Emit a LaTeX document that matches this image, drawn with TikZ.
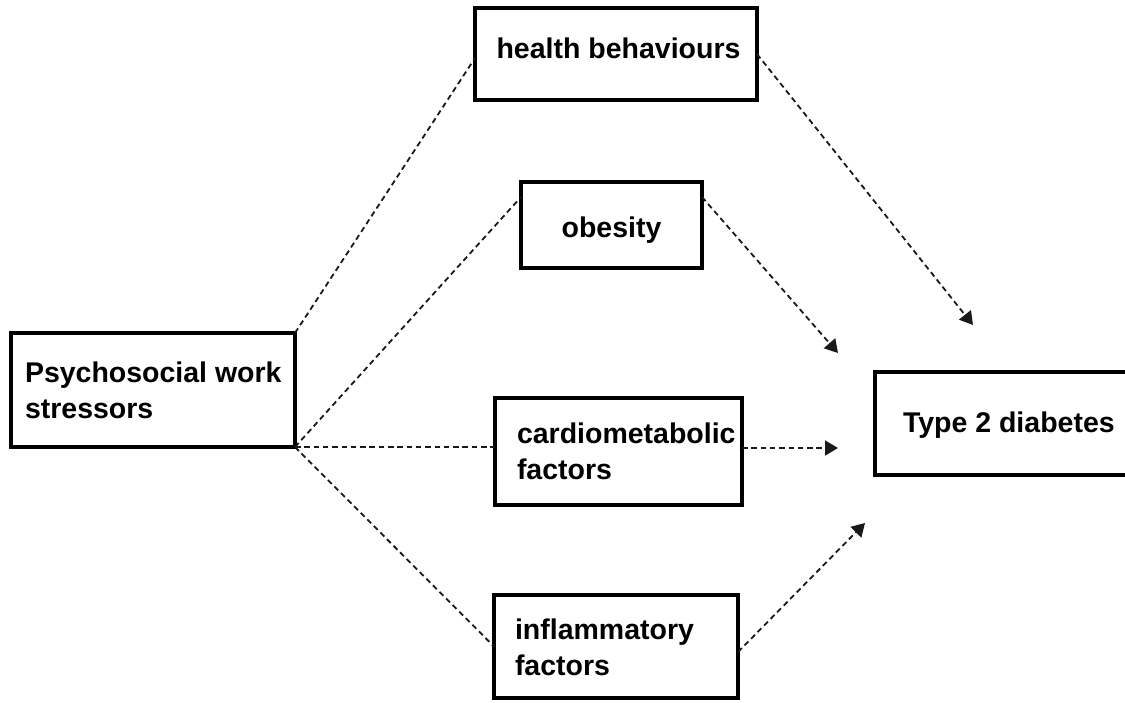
\documentclass[tikz,border=0pt]{standalone}
\usepackage{fontspec}
\setmainfont{Liberation Sans}
\usetikzlibrary{arrows.meta,calc}
\begin{document}
\begin{tikzpicture}[x=1pt,y=-1pt,
  box/.style={draw=black, line width=4.3pt, rectangle, inner sep=0pt, outer sep=0pt},
  lbl/.style={inner sep=0pt, outer sep=0pt, font=\fontsize{28.5}{36}\selectfont\bfseries, align=left},
  link/.style={line width=1.8pt, dash pattern=on 5.5pt off 3.8pt, draw=black!90},
  arr/.style={link, -{Triangle[length=13pt,width=15pt]}}]
\useasboundingbox (0,0) rectangle (1125,702);
% boxes
\node[box, minimum width=284pt, minimum height=114pt] (psy) at (153,390) {};
\node[box, minimum width=282pt, minimum height=92pt] (hb) at (616,54) {};
\node[box, minimum width=181pt, minimum height=86pt] (ob) at (611.5,225) {};
\node[box, minimum width=247pt, minimum height=107pt] (cm) at (618.5,451.5) {};
\node[box, minimum width=244pt, minimum height=103pt] (inf) at (616,646.5) {};
\node[box, minimum width=255pt, minimum height=103pt] (t2d) at (1002.5,423.5) {};
% texts
\node[lbl, anchor=west] (psyt) at ([xshift=14pt]psy.west) {Psychosocial work\\stressors};
\node[lbl, anchor=base] (hbt) at ([xshift=2.5pt,yshift=-4pt]hb.center) {health behaviours};
\node[lbl, anchor=base] (obt) at ([yshift=-12pt]ob.center) {obesity};
\node[lbl, anchor=west] (cmt) at ([xshift=22pt]cm.west) {cardiometabolic\\factors};
\node[lbl, anchor=west] (inft) at ([xshift=21pt,yshift=-1pt]inf.west) {inflammatory\\factors};
\node[lbl, anchor=base west] (t2dt) at ([xshift=28pt,yshift=-8.5pt]t2d.west) {Type 2 diabetes};
% arrow end points
\coordinate (tipA) at (973,325);
\coordinate (tipB) at (838,353);
\coordinate (tipC) at (838,448);
\coordinate (tipD) at (865,523);
% connectors
\draw[link] (psy.north east) -- ([yshift=-4pt]hb.west);
\draw[link] (psy.south east) -- ([yshift=-15pt]ob.north west);
\draw[link] (psy.south east) -- (psy.south east -| cm.west);
\draw[link] (psy.south east) -- (inf.west);
\draw[arr] (hb.east) -- (tipA);
\draw[arr] ([yshift=-15pt]ob.north east) -- (tipB);
\draw[arr] ([yshift=3.5pt]cm.east) -- (tipC);
\draw[arr] ([yshift=-5.5pt]inf.east) -- (tipD);
\end{tikzpicture}
\end{document}
